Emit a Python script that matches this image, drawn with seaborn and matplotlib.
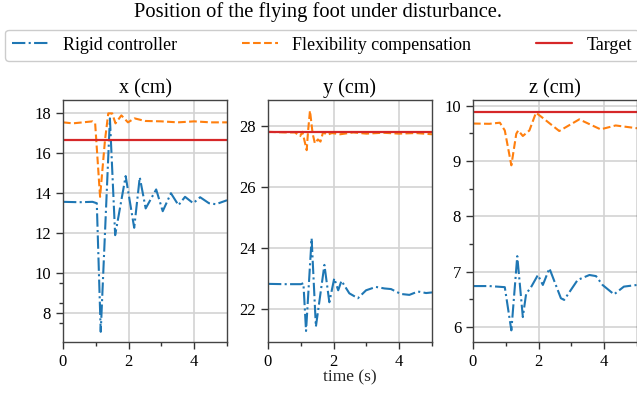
import matplotlib
matplotlib.use("Agg")
import matplotlib.pyplot as plt
from matplotlib.ticker import MultipleLocator, FixedLocator
import seaborn as sns

# values (time in s, position in cm)
t_x_rigid = [0, 0.5, 0.9, 1.03, 1.15, 1.43, 1.59, 1.91, 2.17, 2.34, 2.52, 2.84, 3.04, 3.29, 3.52,
             3.72, 3.97, 4.18, 4.45, 4.66, 5.0]
x_rigid = [13.57, 13.55, 13.57, 13.5, 7.06, 17.75, 11.9, 14.86, 12.27, 14.8, 13.24, 14.19, 13.1, 14.0, 13.4,
           13.82, 13.5, 13.8, 13.5, 13.45, 13.65]
t_x_flex = [0, 0.3, 0.6, 0.9, 0.98, 1.13, 1.28, 1.38, 1.5, 1.6, 1.78, 1.98, 2.18, 2.5, 3.0, 3.5, 4.0, 4.5, 5.0]
x_flex = [17.55, 17.5, 17.55, 17.6, 17.5, 13.82, 16.66, 18.0, 18.0, 17.5, 17.9, 17.55, 17.75, 17.62, 17.6,
          17.55, 17.6, 17.55, 17.55]
x_target = 16.68

t_y_rigid = [0, 0.5, 1.0, 1.08, 1.16, 1.33, 1.46, 1.72, 1.87, 2.02, 2.14, 2.24, 2.48, 2.74, 2.99, 3.29,
             3.55, 3.75, 4.05, 4.31, 4.57, 4.82, 5.0]
y_rigid = [22.83, 22.82, 22.82, 22.85, 21.29, 24.32, 21.43, 23.45, 22.23, 23.01, 22.62, 22.93, 22.52, 22.36,
           22.62, 22.73, 22.68, 22.66, 22.5, 22.47, 22.58, 22.53, 22.55]
t_y_flex = [0, 0.5, 0.82, 0.98, 1.05, 1.18, 1.22, 1.28, 1.36, 1.43, 1.52, 1.6, 1.68, 1.8, 1.95, 2.2, 2.6,
            3.0, 3.5, 4.0, 4.5, 5.0]
y_flex = [27.8, 27.78, 27.78, 27.66, 27.8, 27.2, 27.8, 28.49, 27.75, 27.42, 27.55, 27.48, 27.79, 27.7,
          27.76, 27.72, 27.78, 27.74, 27.77, 27.74, 27.76, 27.72]
y_target = 27.78

t_z_rigid = [0, 0.5, 0.97, 1.17, 1.35, 1.52, 1.62, 1.77, 1.98, 2.13, 2.33, 2.68, 2.78, 3.19, 3.55, 3.75,
             3.95, 4.3, 4.6, 5.0]
z_rigid = [6.74, 6.74, 6.72, 5.94, 7.28, 6.18, 6.6, 6.72, 6.94, 6.76, 7.06, 6.52, 6.49, 6.85, 6.94, 6.92,
           6.76, 6.59, 6.73, 6.76]
t_z_flex = [0, 0.5, 0.82, 0.97, 1.17, 1.32, 1.38, 1.52, 1.72, 1.92, 2.12, 2.63, 3.24, 3.89, 4.35, 5.0]
z_flex = [9.675, 9.67, 9.69, 9.55, 8.92, 9.49, 9.55, 9.45, 9.55, 9.87, 9.78, 9.54, 9.75, 9.57, 9.64, 9.59]
z_target = 9.89

labels = ["Rigid controller", "Flexibility compensation", "Target"]
titles = ["x (cm)", "y (cm)", "z (cm)"]

sns.set_theme(style="whitegrid")
serif = ["Liberation Serif", "DejaVu Serif"]
plt.rcParams["font.family"] = serif
plt.rcParams.update({
    "axes.edgecolor": "#444444",
    "axes.linewidth": 1.0,
    "grid.color": "#d3d3d3",
    "grid.linewidth": 1.2,
    "xtick.bottom": True,
    "ytick.left": True,
    "xtick.color": "#333333",
    "ytick.color": "#333333",
    "xtick.major.size": 5,
    "ytick.major.size": 5,
    "xtick.minor.size": 3,
    "ytick.minor.size": 3,
    "xtick.major.width": 1.0,
    "ytick.major.width": 1.0,
    "xtick.labelsize": 12,
    "ytick.labelsize": 12,
    "text.color": "black",
    "xtick.labelcolor": "black",
    "ytick.labelcolor": "black",
})

fig = plt.figure(figsize=(6.37, 3.94), dpi=100)
w, h, b = 0.2575, 0.6142, 0.132
axes = [fig.add_axes([l, b, w, h]) for l in (0.0989, 0.4207, 0.7425)]

series = [
    (t_x_rigid, x_rigid, t_x_flex, x_flex, x_target, (6.55, 18.67), 2),
    (t_y_rigid, y_rigid, t_y_flex, y_flex, y_target, (20.93, 28.84), 2),
    (t_z_rigid, z_rigid, t_z_flex, z_flex, z_target, (5.73, 10.1), 1),
]
minor_y = [[7.5, 8.5, 9.5], [], [6.5, 7.5, 8.5, 9.5]]

for ax, (tr, vr, tf, vf, tgt, ylim, step), mny, ttl in zip(axes, series, minor_y, titles):
    sns.lineplot(x=tr, y=vr, ax=ax, color="tab:blue", linestyle="-.", linewidth=1.5, label=labels[0])
    sns.lineplot(x=tf, y=vf, ax=ax, color="tab:orange", linestyle="--", linewidth=1.5, label=labels[1])
    ax.axhline(tgt, color="tab:red", linewidth=1.6, label=labels[2])
    ax.set_xlim(0, 5)
    ax.set_ylim(*ylim)
    ax.xaxis.set_major_locator(MultipleLocator(2))
    ax.xaxis.set_minor_locator(MultipleLocator(1))
    ax.yaxis.set_major_locator(MultipleLocator(step))
    ax.yaxis.set_minor_locator(FixedLocator(mny))
    ax.tick_params(which="minor", bottom=True, left=True)
    for lbl in ax.get_xticklabels() + ax.get_yticklabels():
        lbl.set_fontfamily(serif)
    ax.set_title(ttl, fontsize=14.5, pad=5)
    ax.get_legend().remove()

axes[1].set_xlabel("time (s)", fontsize=12.5, labelpad=0)

handles, _ = axes[0].get_legend_handles_labels()
fig.legend(handles, labels, loc="lower left", ncol=3, mode="expand",
           bbox_to_anchor=(5 / 637, 1 - 61 / 394, 634 / 637, 29 / 394),
           borderaxespad=0, fontsize=13, frameon=True, fancybox=True,
           edgecolor="#cccccc", framealpha=1)
fig.suptitle("Position of the flying foot under disturbance.", fontsize=14.8, y=0.995, va="top")

fig.savefig("out.png", dpi=100)
